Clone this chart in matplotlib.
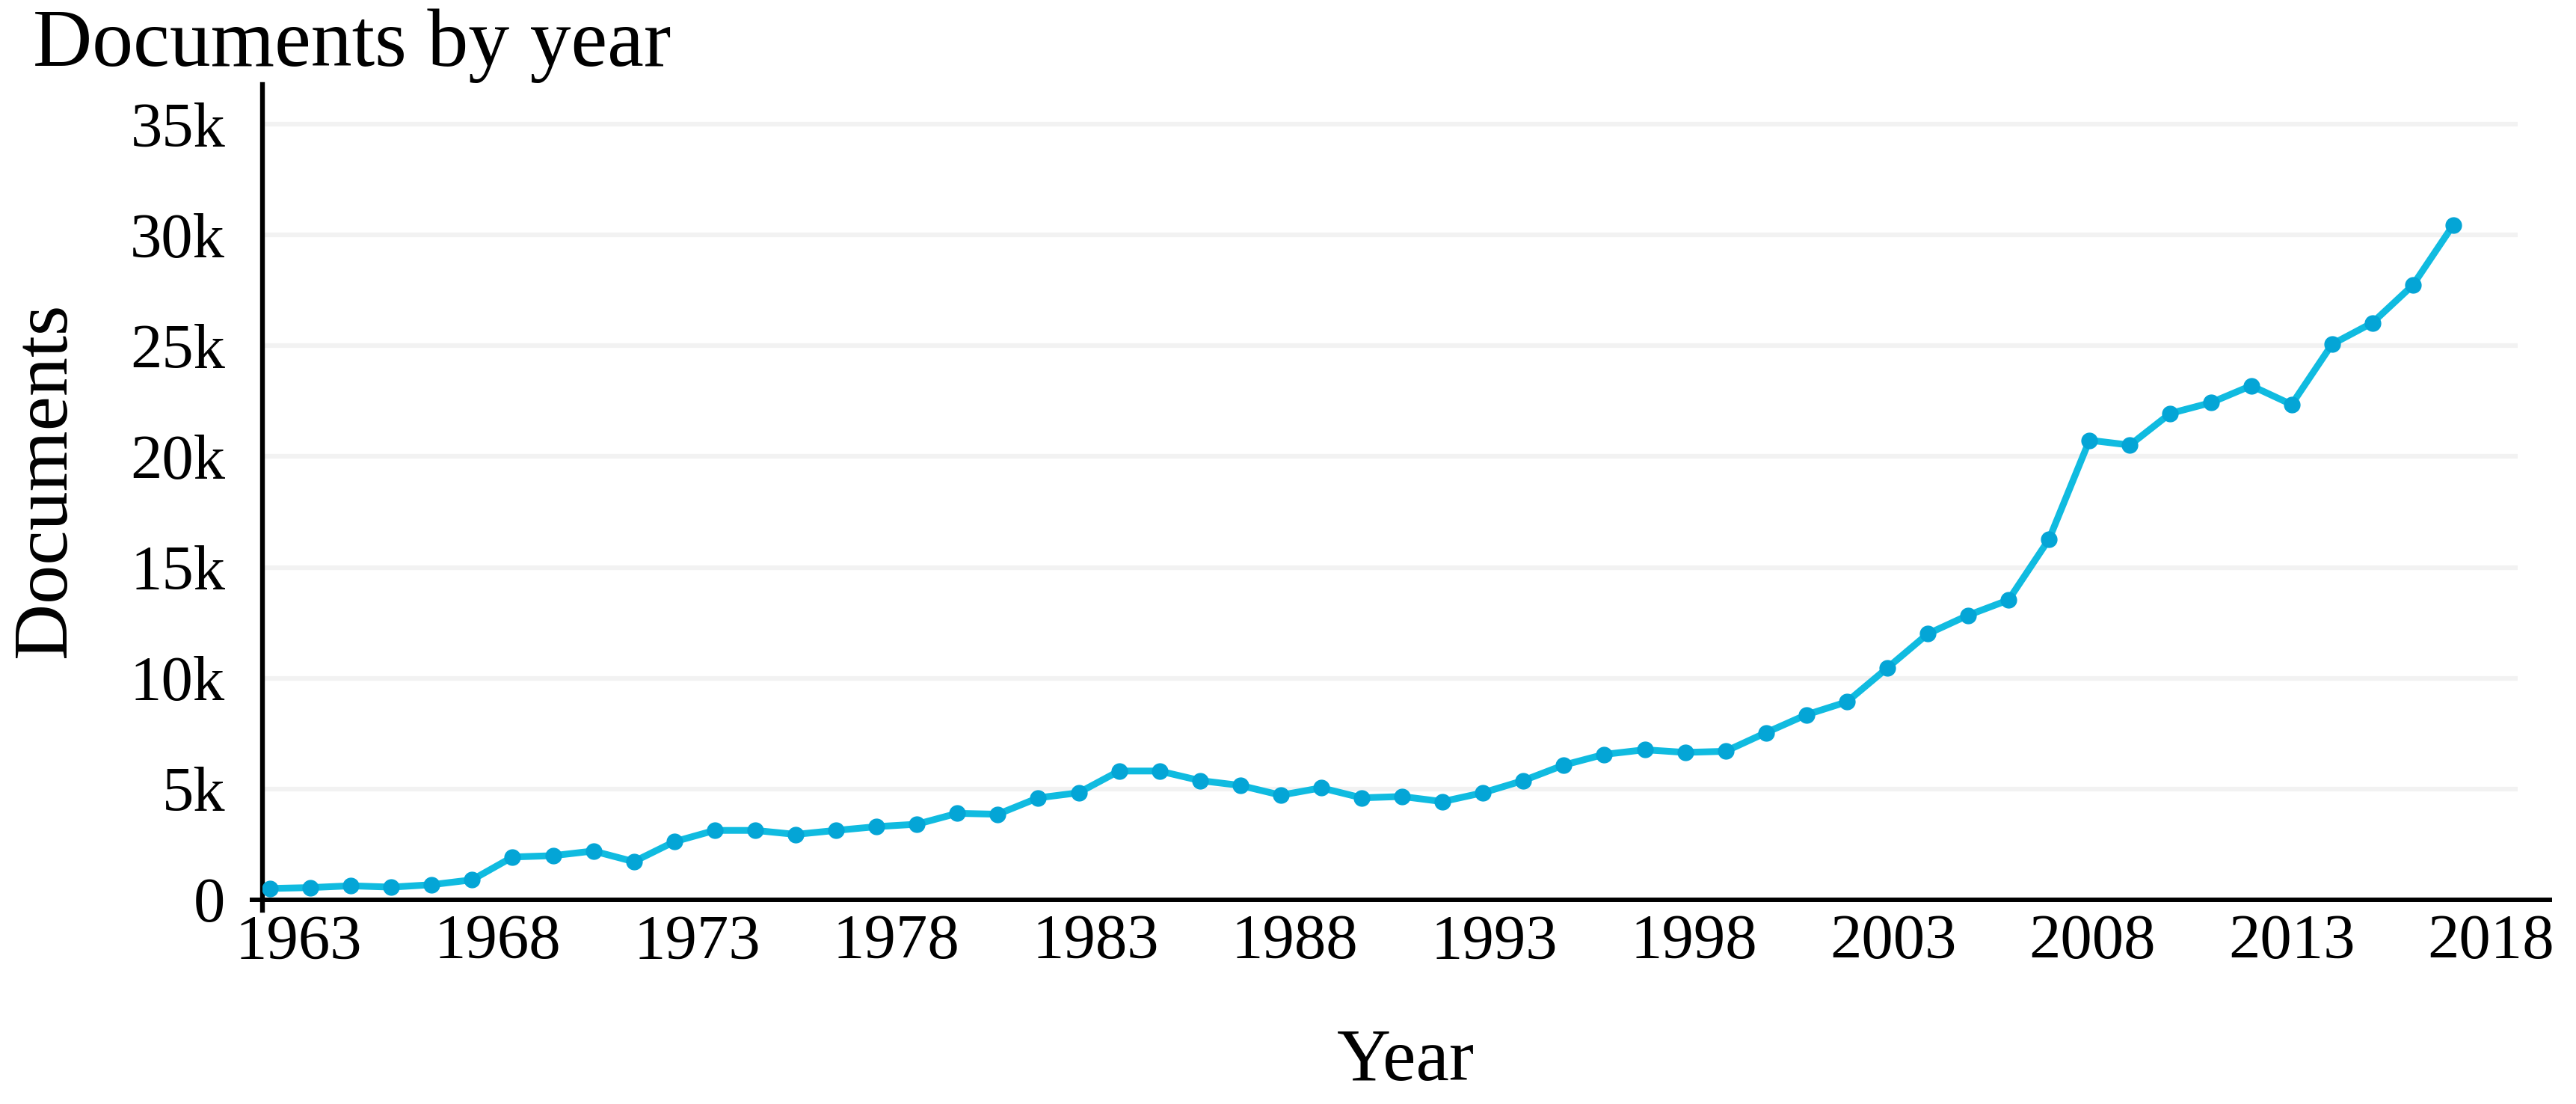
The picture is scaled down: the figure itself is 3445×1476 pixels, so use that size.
import numpy as np
import matplotlib.pyplot as plt
from matplotlib.ticker import FuncFormatter

# documents per year
years = list(range(1963, 2018))
documents = [510, 550, 630, 570, 680, 900, 1930, 1990, 2200, 1720,
             2620, 3130, 3130, 2950, 3130, 3300, 3410, 3900, 3860, 4600,
             4830, 5810, 5810, 5380, 5160, 4720, 5050, 4600, 4660, 4430,
             4830, 5380, 6080, 6560, 6770, 6650, 6700, 7540, 8350, 8930,
             10460, 12000, 12840, 13530, 16270, 20740, 20520, 21950, 22430, 23200,
             22350, 25070, 26040, 27740, 30460]

tick_years = [1963, 1968, 1973, 1978, 1983, 1988, 1993, 1998, 2003, 2008, 2013, 2018]
y_ticks = [0, 5000, 10000, 15000, 20000, 25000, 30000, 35000]

plt.rcParams['font.family'] = ['Liberation Serif', 'DejaVu Serif']

fig = plt.figure(figsize=(34.45, 14.76), dpi=100)
ax = fig.add_axes([0.1019, 0.1850, 0.888, 0.7384])

# light horizontal grid, stops a little short of the axis end
ax.hlines(y_ticks[1:], 1962.8, 2018.6, color='#f2f2f2', linewidth=4.5, zorder=0)

ax.plot(years, documents, color='#10bbe0', linewidth=6.5, marker='o',
        markersize=15, markerfacecolor='#04a5d6', markeredgecolor='#04a5d6',
        zorder=3)

ax.set_xlim(1962.815, 2019.39)
ax.set_ylim(0, 36790)

# year labels sit slightly right of the data points in the original
ax.set_xticks([1963.7 + 0.986 * (y - 1963) for y in tick_years])
ax.set_xticklabels([str(y) for y in tick_years])
ax.set_yticks(y_ticks)
ax.yaxis.set_major_formatter(FuncFormatter(lambda v, p: '0' if v == 0 else '%dk' % (v / 1000)))
ax.tick_params(axis='both', length=0, labelsize=61, colors='black')
ax.tick_params(axis='x', pad=14)
ax.tick_params(axis='y', pad=36)

for s in ['top', 'right']:
    ax.spines[s].set_visible(False)
ax.spines['bottom'].set_linewidth(4.3)
ax.spines['left'].set_linewidth(4.6)
ax.spines['bottom'].set_zorder(4)
# both axis lines poke a little past the corner
ax.spines['left'].set_bounds(-470, 36790)
ax.spines['bottom'].set_bounds(1962.55, 2019.39)

fig.text(0.0128, 0.9404, 'Documents by year', fontsize=79, ha='left', va='baseline')
fig.text(0.018, 1 - 642 / 1476, 'Documents', fontsize=75, rotation=90, ha='center', va='center')
fig.text(0.5458, 1 - 1444 / 1476, 'Year', fontsize=72, ha='center', va='baseline')

fig.savefig('out.png', dpi=100)
